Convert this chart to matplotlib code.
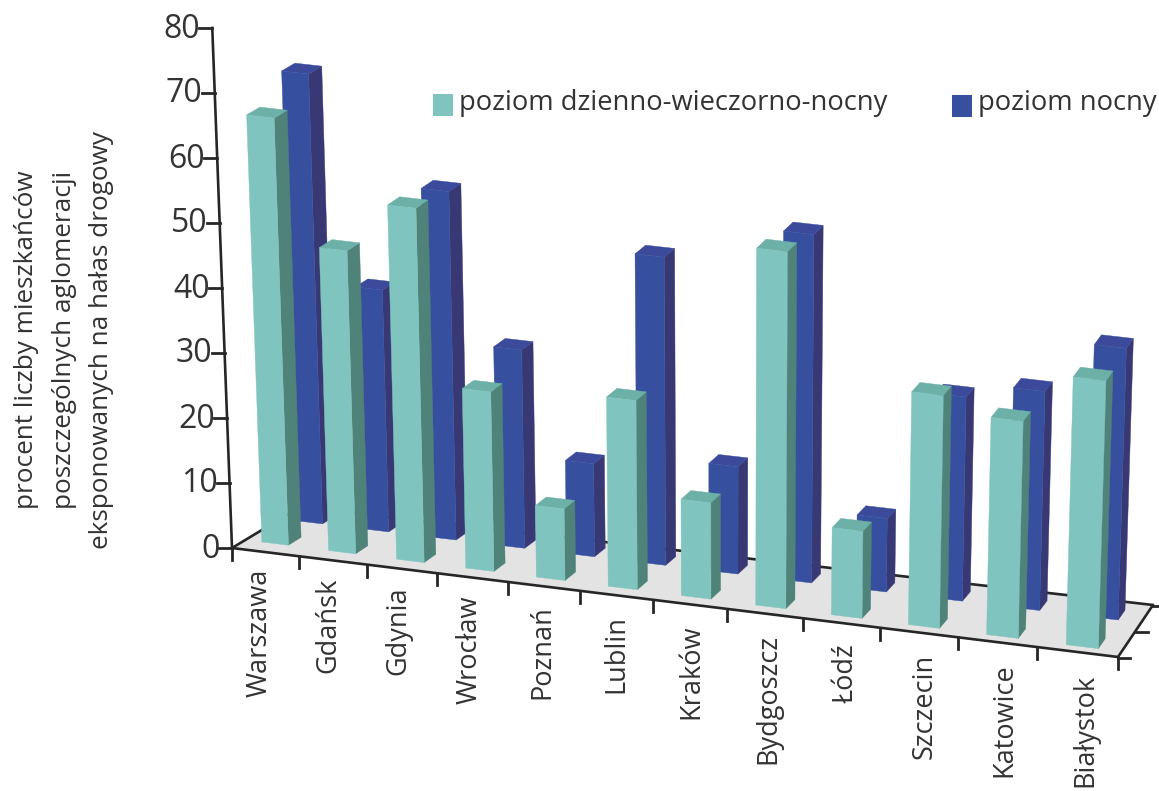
import numpy as np
import matplotlib
matplotlib.use("Agg")
import matplotlib.pyplot as plt
from matplotlib.patches import Polygon, Rectangle

plt.rcParams['font.family'] = ['Open Sans', 'DejaVu Sans']

cities = ["Warszawa", "Gdańsk", "Gdynia", "Wrocław", "Poznań", "Lublin",
          "Kraków", "Bydgoszcz", "Łódź", "Szczecin", "Katowice", "Białystok"]
dzienno = [65.7, 46.6, 54.5, 27.6, 11, 29.1, 14.8, 54.9, 13.4, 35.8, 33.4, 41.2]
nocny = [69.2, 37.2, 53.6, 30.5, 14.3, 47.4, 16.5, 53.6, 11.3, 31.4, 33.7, 41.8]
y_ticks = [0, 10, 20, 30, 40, 50, 60, 70, 80]
y_title = ["procent liczby mieszkańców",
           "poszczególnych aglomeracji",
           "eksponowanych na hałas drogowy"]
legend_names = ["poziom dzienno-wieczorno-nocny", "poziom nocny"]

# floor corners in pixels, the fake 3d is done by hand
FL = np.array([232., 548.])
FR = np.array([1118., 657.])
BL = np.array([300., 507.])
BR = np.array([1153., 605.])
PX_PER_UNIT = 6.5
VANISH_X = 725.
VANISH_D = 13000.
INK = "#262626"


def project(c, d, v=0.):
    # c = category position, d = depth 0..1, v = value
    u = c / len(cities)
    f = 0.9 * u + 0.1 * u ** 2
    front = FL + f * (FR - FL)
    back = BL + f * (BR - BL)
    p = front + d * (back - front)
    h = v * PX_PER_UNIT
    return (p[0] + (p[0] - VANISH_X) * h / VANISH_D, p[1] - h)


def draw_bar(ax, i, val, d0, colors):
    # rows sit a bit closer to the front edge towards the right
    slide = i / (len(cities) - 1)
    c0, c1 = i + 0.25 + 0.06 * slide, i + 0.65 + 0.06 * slide
    d0 = d0 - (0.09 if d0 < 0.5 else 0.05) * slide
    d1 = d0 + 0.19
    front = [project(c0, d0), project(c1, d0), project(c1, d0, val), project(c0, d0, val)]
    side = [project(c1, d0), project(c1, d1), project(c1, d1, val), project(c1, d0, val)]
    top = [project(c0, d0, val), project(c1, d0, val), project(c1, d1, val), project(c0, d1, val)]
    for pts, col in zip((side, top, front), colors):
        ax.add_patch(Polygon(pts, closed=True, fc=col, ec=col, lw=0.3, zorder=3))


fig = plt.figure(figsize=(11.59, 7.91), dpi=100)
ax = fig.add_axes([0, 0, 1, 1])
ax.set_xlim(0, 1159)
ax.set_ylim(791, 0)
ax.axis('off')

# floor
corners = [project(0, 0), project(12, 0), project(12, 1), project(0, 1)]
ax.add_patch(Polygon(corners, closed=True, fc="#e3e3e3", ec="none"))
for a, b in ((0, 1), (1, 2), (2, 3), (3, 0)):
    ax.plot([corners[a][0], corners[b][0]], [corners[a][1], corners[b][1]],
            color=INK, lw=1.9, solid_capstyle='round')

# ticks along the front edge and the depth edge
for i in range(len(cities) + 1):
    x, y = project(i, 0)
    ax.plot([x, x], [y, y + 12], color=INK, lw=2)
for d in (0, 0.5, 1):
    x, y = project(12, d)
    ax.plot([x, x + 12], [y + 1, y + 1], color=INK, lw=2)

# value axis
x0, y0 = project(0, 0)
xt, yt = project(0, 0, y_ticks[-1])
ax.plot([x0, xt], [y0, yt], color=INK, lw=1.9)
for t in y_ticks:
    x, y = project(0, 0, t)
    ax.plot([x - 13, x], [y, y], color=INK, lw=2)
    ax.text(x - 12, y + 1, str(t), ha='right', va='center', fontsize=23, color="#333333")

blue = ("#383874", "#3b4a9b", "#374f9f")
teal = ("#4f8279", "#6db0a8", "#7fc4be")
for i, v in enumerate(nocny):
    draw_bar(ax, i, v, 0.71, blue)
for i, v in enumerate(dzienno):
    draw_bar(ax, i, v, 0.196, teal)

# city names hang under the front edge
for i, name in enumerate(cities):
    x, y = project(i + 0.5, 0)
    ax.text(x - 6 + 1.3 * i, y + 17 + 0.45 * i, name, rotation=90, ha='center', va='top',
            fontsize=19.5, color="#333333")

for x, line in zip((27, 65, 102), y_title):
    ax.text(x, 340, line, rotation=90, ha='center', va='center',
            fontsize=18.8, color="#333333")

ax.add_patch(Rectangle((433, 94), 20, 22, fc=teal[2], ec="none"))
ax.text(459, 103, legend_names[0], ha='left', va='center', fontsize=19.7, color="#333333")
ax.add_patch(Rectangle((952, 95), 20, 22, fc=blue[2], ec="none"))
ax.text(978, 103, legend_names[1], ha='left', va='center', fontsize=19.7, color="#333333")

fig.savefig("out.png", dpi=100)
